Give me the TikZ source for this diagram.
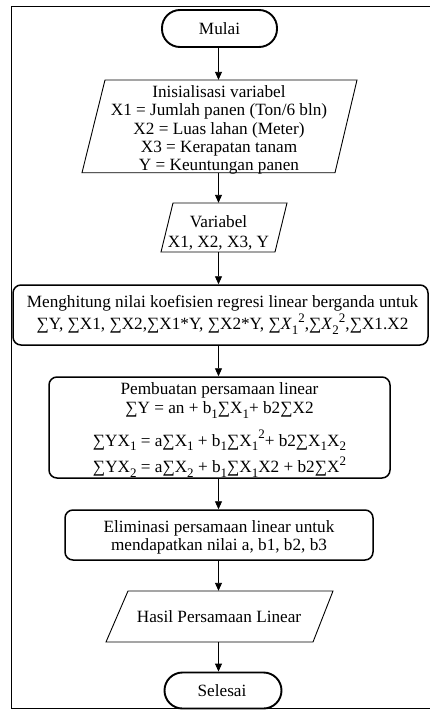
\documentclass[tikz,border=0pt]{standalone}
\usepackage{fontspec}
\setmainfont{Liberation Serif}
\usetikzlibrary{arrows.meta,calc}
\newcommand{\lsub}[1]{\raisebox{-0.28em}{\fontsize{13}{13}\selectfont #1}}
\newcommand{\lsup}[1]{\raisebox{0.42em}{\fontsize{13}{13}\selectfont #1}}
\begin{document}
\begin{tikzpicture}[x=1pt,y=-1pt,
  txt/.style={align=center, inner sep=0pt, font=\fontsize{17.2}{18.2}\selectfont},
  shapebox/.style={inner sep=0pt},
  term/.style={draw, line width=1.9pt, rounded corners=18pt, inner sep=0pt},
  procbox/.style={draw, line width=1.5pt, rounded corners=8pt, inner sep=0pt},
  para/.style={line width=0.9pt, line join=miter},
  frame/.style={line width=1.8pt},
  arr/.style={-{Triangle[length=8pt,width=7pt]}, line width=0.9pt}]
\useasboundingbox (0,0) rectangle (430,715);
\begin{scope}
\clip (0,0) rectangle (430,715);
\draw[frame] (445,6.5) -- (11.5,6.5) -- (11.5,708.5) -- (445,708.5);

% Mulai
\node[term, minimum width=115pt, minimum height=37pt] (mulai) at (219.5,28.5) {};
\node[txt] (mulait) at (219.5,29) {Mulai};

% Inisialisasi
\node[shapebox, minimum width=230pt, minimum height=92.7pt] (ini) at (218.5,126.35) {};
\draw[para] ($(ini.center)+(-113.5,-46.35)$) -- ($(ini.center)+(138.5,-46.35)$)
  -- ($(ini.center)+(116.5,46.35)$) -- ($(ini.center)+(-136.5,46.35)$) -- cycle;
\node[txt] (init) at (219,130) {Inisialisasi variabel\\X1 = Jumlah panen (Ton/6 bln)\\X2 = Luas lahan (Meter)\\X3 = Kerapatan tanam\\Y = Keuntungan panen};

% Variabel
\node[shapebox, minimum width=100pt, minimum height=49pt] (var) at (218.5,227.5) {};
\draw[para] ($(var.center)+(-45.5,-24.5)$) -- ($(var.center)+(68.5,-24.5)$)
  -- ($(var.center)+(56.5,24.5)$) -- ($(var.center)+(-57.5,24.5)$) -- cycle;
\node[txt] (vart) at (218.5,233) {Variabel\\[2pt]X1, X2, X3, Y};

% Menghitung
\node[procbox, minimum width=415pt, minimum height=60pt] (hit) at (220.5,315) {};
\node[txt] (hitt) at (222.5,315) {Menghitung nilai koefisien regresi linear berganda untuk\\[1pt]
∑Y, ∑X1, ∑X2,∑X1*Y, ∑X2*Y, ∑\textit{X}\lsub{1}\lsup{2},∑\textit{X}\lsub{2}\lsup{2},∑X1.X2};

% Pembuatan
\node[procbox, minimum width=341pt, minimum height=101pt] (pem) at (219.5,427.5) {};
\node[txt] (pemt) at (219.5,430) {Pembuatan persamaan linear\\[1pt]
∑Y = an + b\lsub{1}∑X\lsub{1}+ b2∑X2\\[11pt]
∑YX\lsub{1} = a∑X\lsub{1} + b\lsub{1}∑X\lsub{1}\lsup{2}+ b2∑X\lsub{1}X\lsub{2}\\[5pt]
∑YX\lsub{2} = a∑X\lsub{2} + b\lsub{1}∑X\lsub{1}X2 + b2∑X\lsup{2}};

% Eliminasi
\node[procbox, minimum width=308pt, minimum height=50pt] (eli) at (219,535) {};
\node[txt] (elit) at (219,537) {Eliminasi persamaan linear untuk\\mendapatkan nilai a, b1, b2, b3};

% Hasil
\node[shapebox, minimum width=190pt, minimum height=51pt] (has) at (218.5,616.5) {};
\draw[para] ($(has.center)+(-90.5,-25.5)$) -- ($(has.center)+(114.5,-25.5)$)
  -- ($(has.center)+(94.5,25.5)$) -- ($(has.center)+(-112.5,25.5)$) -- cycle;
\node[txt] (hast) at (219,617) {Hasil Persamaan Linear};

% Selesai
\node[term, minimum width=117pt, minimum height=36pt] (sel) at (223,690.5) {};
\node[txt] (selt) at (222,691) {Selesai};

% arrows
\draw[arr] (mulai.south -| ini.center) -- (ini.north);
\draw[arr] (ini.south) -- (var.north);
\draw[arr] (var.south) -- (var.south |- hit.north);
\draw[arr] (var.south |- hit.south) -- (var.south |- pem.north);
\draw[arr] (var.south |- pem.south) -- (var.south |- eli.north);
\draw[arr] (var.south |- eli.south) -- (has.north);
\draw[arr] (has.south) -- (has.south |- sel.north);
\end{scope}
\end{tikzpicture}
\end{document}
